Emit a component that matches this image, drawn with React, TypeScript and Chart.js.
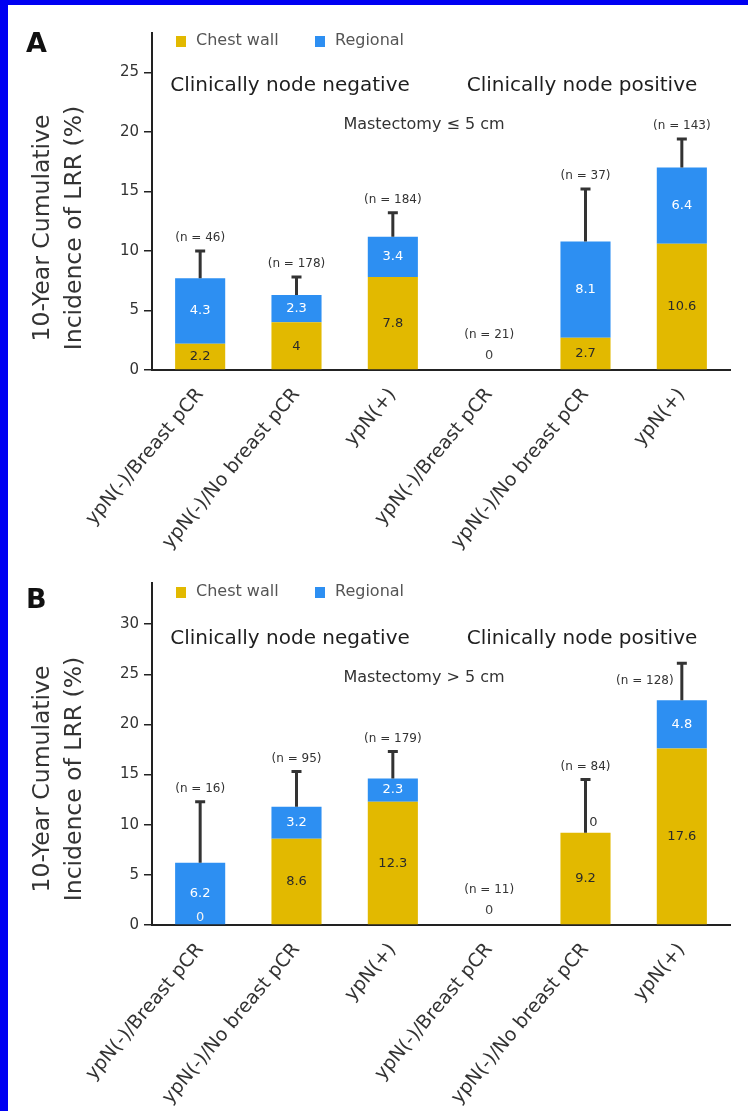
import React, { useEffect, useRef } from "react";
import { Chart, registerables } from "chart.js";

Chart.register(...registerables);

// ---------- data ----------
const categories = [
  "ypN(-)/Breast pCR",
  "ypN(-)/No breast pCR",
  "ypN(+)",
  "ypN(-)/Breast pCR",
  "ypN(-)/No breast pCR",
  "ypN(+)",
];
const seriesNames = ["Chest wall", "Regional"];
const groupTitles = ["Clinically node negative", "Clinically node positive"];
const yTitleLines = ["10-Year Cumulative", "Incidence of LRR (%)"];

// Panel A: Mastectomy <= 5 cm
const chestWallA = [2.2, 4, 7.8, 0, 2.7, 10.6];
const regionalA = [5.5, 2.3, 3.4, 0, 8.1, 6.4];
const upperCIA: (number | null)[] = [10.0, 7.8, 13.2, null, 15.2, 19.4];
const chestLabelsA = ["2.2", "4", "7.8", "0", "2.7", "10.6"];
const regionalLabelsA = ["4.3", "2.3", "3.4", "0", "8.1", "6.4"];
const nLabelsA = ["(n = 46)", "(n = 178)", "(n = 184)", "(n = 21)", "(n = 37)", "(n = 143)"];
const yTicksA = [0, 5, 10, 15, 20, 25];
const yMaxA = 28.3;
const subtitleA = "Mastectomy \u2264 5 cm";

// Panel B: Mastectomy > 5 cm
const chestWallB = [0, 8.6, 12.3, 0, 9.2, 17.6];
const regionalB = [6.2, 3.2, 2.3, 0, 0, 4.8];
const upperCIB: (number | null)[] = [12.3, 15.3, 17.3, null, 14.5, 26.1];
const chestLabelsB = ["0", "8.6", "12.3", "0", "9.2", "17.6"];
const regionalLabelsB = ["6.2", "3.2", "2.3", "0", "0", "4.8"];
const nLabelsB = ["(n = 16)", "(n = 95)", "(n = 179)", "(n = 11)", "(n = 84)", "(n = 128)"];
const yTicksB = [0, 5, 10, 15, 20, 25, 30];
const yMaxB = 34.1;
const subtitleB = "Mastectomy > 5 cm";

// ---------- styles ----------
const FONT = "'DejaVu Sans', 'Liberation Sans', sans-serif";
const YELLOW = "#E2B900";
const BLUE = "#2D8FF2";
const BORDER_BLUE = "#0000F2";

type Panel = {
  letter: string;
  chest: number[];
  regional: number[];
  upper: (number | null)[];
  chestLabels: string[];
  regionalLabels: string[];
  nLabels: string[];
  yTicks: number[];
  yMax: number;
  subtitle: string;
  top: number;
  height: number;
  padTop: number;
  xHeight: number;
  letterY: number;
  legendY: number;
  groupY: number;
  subY: number;
  titleY: number;
  nShift?: { index: number; dx: number; dy: number };
};

const panels: Panel[] = [
  {
    letter: "A",
    chest: chestWallA,
    regional: regionalA,
    upper: upperCIA,
    chestLabels: chestLabelsA,
    regionalLabels: regionalLabelsA,
    nLabels: nLabelsA,
    yTicks: yTicksA,
    yMax: yMaxA,
    subtitle: subtitleA,
    top: 0,
    height: 556,
    padTop: 33,
    xHeight: 186,
    letterY: 45,
    legendY: 41,
    groupY: 86,
    subY: 125,
    titleY: 228,
  },
  {
    letter: "B",
    chest: chestWallB,
    regional: regionalB,
    upper: upperCIB,
    chestLabels: chestLabelsB,
    regionalLabels: regionalLabelsB,
    nLabels: nLabelsB,
    yTicks: yTicksB,
    yMax: yMaxB,
    subtitle: subtitleB,
    top: 556,
    height: 555,
    padTop: 27,
    xHeight: 186,
    letterY: 45,
    legendY: 36,
    groupY: 83,
    subY: 122,
    titleY: 223,
    nShift: { index: 5, dx: -37, dy: 18 },
  },
];

function txt(
  ctx: CanvasRenderingContext2D,
  s: string,
  x: number,
  y: number,
  font: string,
  color: string,
  align: CanvasTextAlign = "center"
) {
  ctx.save();
  ctx.font = font;
  ctx.fillStyle = color;
  ctx.textAlign = align;
  ctx.textBaseline = "middle";
  ctx.fillText(s, x, y);
  ctx.restore();
}

function makePlugin(p: Panel) {
  return {
    id: "annot" + p.letter,
    afterDraw(chart: any) {
      const ctx: CanvasRenderingContext2D = chart.ctx;
      const xs = chart.scales.x;
      const ys = chart.scales.y;
      const base = ys.getPixelForValue(0);

      for (let i = 0; i < categories.length; i++) {
        const cx = xs.getPixelForValue(i);
        const c = p.chest[i];
        const r = p.regional[i];
        const yC = ys.getPixelForValue(c);
        const yT = ys.getPixelForValue(c + r);
        const up = p.upper[i];
        let nx = cx;
        let ny: number;
        if (up != null) {
          const yU = ys.getPixelForValue(up);
          ctx.save();
          ctx.strokeStyle = "#333";
          ctx.lineWidth = 3;
          ctx.beginPath();
          ctx.moveTo(cx, yT);
          ctx.lineTo(cx, yU);
          ctx.moveTo(cx - 5, yU);
          ctx.lineTo(cx + 5, yU);
          ctx.stroke();
          ctx.restore();
          ny = yU - 13;
          if (p.nShift && p.nShift.index === i) {
            nx = cx + p.nShift.dx;
            ny = yU + p.nShift.dy;
          }
        } else {
          ny = base - 35;
        }
        txt(ctx, p.nLabels[i], nx, ny, `12px ${FONT}`, "#333");

        const vf = `13px ${FONT}`;
        if (c === 0 && r === 0) {
          txt(ctx, p.chestLabels[i], cx, base - 14, vf, "#444");
        } else {
          if (c > 0) txt(ctx, p.chestLabels[i], cx, (base + yC) / 2, vf, "#2a2a2a");
          else txt(ctx, p.chestLabels[i], cx, base - 7, vf, "#f2f2f2");
          if (r > 0) txt(ctx, p.regionalLabels[i], cx, (yC + yT) / 2, vf, "#ffffff");
          else txt(ctx, p.regionalLabels[i], cx + 8, yT - 10, vf, "#333");
        }
      }

      // panel letter
      txt(ctx, p.letter, 26, p.letterY, `bold 27px ${FONT}`, "#111", "left");

      // legend
      ctx.save();
      ctx.fillStyle = YELLOW;
      ctx.fillRect(176, p.legendY - 5, 10, 11);
      ctx.fillStyle = BLUE;
      ctx.fillRect(315, p.legendY - 5, 10, 11);
      ctx.restore();
      txt(ctx, seriesNames[0], 196, p.legendY, `16px ${FONT}`, "#555", "left");
      txt(ctx, seriesNames[1], 335, p.legendY, `16px ${FONT}`, "#555", "left");

      // group titles
      txt(ctx, groupTitles[0], 290, p.groupY, `20px ${FONT}`, "#1e1e1e");
      txt(ctx, groupTitles[1], 582, p.groupY, `20px ${FONT}`, "#1e1e1e");
      txt(ctx, p.subtitle, 424, p.subY, `16px ${FONT}`, "#333");

      // y title
      ctx.save();
      ctx.translate(0, p.titleY);
      ctx.rotate(-Math.PI / 2);
      txt(ctx, yTitleLines[0], 0, 43, `23.5px ${FONT}`, "#333");
      txt(ctx, yTitleLines[1], 0, 75, `23.5px ${FONT}`, "#333");
      ctx.restore();
    },
  };
}

function PanelChart({ p }: { p: Panel }) {
  const ref = useRef<HTMLCanvasElement>(null);
  useEffect(() => {
    if (!ref.current) return;
    const chart = new Chart(ref.current, {
      type: "bar",
      data: {
        labels: categories,
        datasets: [
          { label: seriesNames[0], data: p.chest, backgroundColor: YELLOW, borderWidth: 0 },
          { label: seriesNames[1], data: p.regional, backgroundColor: BLUE, borderWidth: 0 },
        ],
      },
      options: {
        responsive: false,
        animation: false,
        devicePixelRatio: 1,
        datasets: { bar: { barPercentage: 0.52, categoryPercentage: 1 } },
        layout: { padding: { left: 0, right: 18, top: p.padTop, bottom: 0 } },
        plugins: {
          legend: { display: false },
          tooltip: { enabled: false },
          title: { display: false },
        },
        scales: {
          x: {
            stacked: true,
            grid: { display: false, drawTicks: false },
            border: { display: true, color: "#222", width: 2 },
            ticks: {
              autoSkip: false,
              minRotation: 50,
              maxRotation: 50,
              padding: 14,
              color: "#333",
              font: { family: FONT, size: 19 },
            },
            afterFit: (s: any) => {
              s.height = p.xHeight;
            },
          },
          y: {
            stacked: true,
            min: 0,
            max: p.yMax,
            afterBuildTicks: (s: any) => {
              s.ticks = p.yTicks.map((v) => ({ value: v }));
            },
            grid: {
              drawOnChartArea: false,
              drawTicks: true,
              tickLength: 8,
              color: "#222",
              lineWidth: 1.5,
            },
            border: { display: true, color: "#222", width: 2 },
            ticks: { padding: 5, color: "#333", font: { family: FONT, size: 15 } },
            afterFit: (s: any) => {
              s.width = 152;
            },
          },
        },
      },
      plugins: [makePlugin(p)],
    } as any);
    return () => chart.destroy();
  }, [p]);
  return (
    <canvas
      ref={ref}
      width={748}
      height={p.height}
      style={{
        position: "absolute",
        left: 0,
        top: p.top,
        width: 748,
        height: p.height,
        display: "block",
      }}
    />
  );
}

export default function App() {
  return (
    <div
      style={{
        position: "absolute",
        left: 0,
        top: 0,
        width: 748,
        height: 1111,
        background: "#fff",
        overflow: "hidden",
      }}
    >
      {panels.map((p) => (
        <PanelChart key={p.letter} p={p} />
      ))}
      <div style={{ position: "absolute", left: 0, top: 0, width: 748, height: 5, background: BORDER_BLUE }} />
      <div style={{ position: "absolute", left: 0, top: 0, width: 8, height: 1111, background: BORDER_BLUE }} />
    </div>
  );
}
